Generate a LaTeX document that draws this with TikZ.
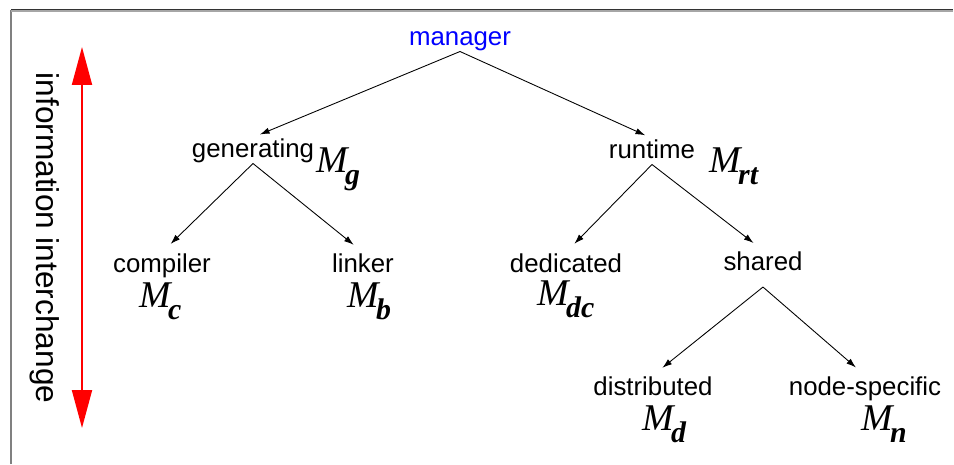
\documentclass[tikz,border=0pt]{standalone}
\usepackage{fontspec}
\setmainfont{Liberation Sans}
\newfontfamily\serifM{Liberation Serif}
\usetikzlibrary{arrows.meta}
% M labels with their big, bold subscripts
\newcommand{\Mlab}[1]{{\serifM\itshape\fontsize{21.5}{24}\selectfont M}\kern-1.5pt%
  \raisebox{-7.2pt}{\serifM\itshape\bfseries\fontsize{17}{20}\selectfont #1}}
\tikzset{
  word/.style={anchor=base, inner sep=0pt, font=\fontsize{14.7}{17}\selectfont,
    text height=11pt, text depth=3.5pt},
  mlabel/.style={anchor=base west, inner sep=0pt},
  link/.style={line width=0.5pt, -{Latex[length=5.5pt,width=3.6pt]}, shorten >=0.24cm},
  interarrow/.style={red, line width=1.1pt,
    {Triangle[length=0.76cm,width=0.4cm]}-{Triangle[length=0.76cm,width=0.4cm]}},
}
\begin{document}
\begin{tikzpicture}[x=0.02cm,y=-0.02cm]
\useasboundingbox (0,0) rectangle (954,464);

% Drawing the frame
\draw[black!50, line width=0.8pt] (11,464) -- (11,10);
\draw[black!80, line width=0.7pt] (11,9.5) -- (953,9.5);
\draw[black!35, line width=0.6pt] (11,11) -- (953,11);

% Drawing the tree
\node[word, text=blue] (manager) at (460,45) {manager};
\node[word] (generating) at (253,157) {generating};
\node[word] (runtime) at (652,158) {runtime};
\node[word] (compiler) at (162,272) {compiler};
\node[word] (linker) at (363,272) {linker};
\node[word] (dedicated) at (566,272) {dedicated};
\node[word, text depth=9.5pt] (shared) at (763,270) {shared};
\node[word] (distributed) at (653,395) {distributed};
\node[word] (nodespecific) at (865,395) {node-specific};

\node[mlabel] (Mg) at (316,172) {\Mlab{g}};
\node[mlabel] (Mrt) at (709,172) {\Mlab{rt}};
\node[mlabel] (Mc) at (139,307) {\Mlab{c}};
\node[mlabel] (Mb) at (347,307) {\Mlab{b}};
\node[mlabel] (Mdc) at (537,305) {\Mlab{dc}};
\node[mlabel] (Md) at (642,430) {\Mlab{d}};
\node[mlabel] (Mn) at (861,430) {\Mlab{n}};

\draw[link, shorten >=0.15cm] (manager.south) -- (generating.north);
\draw[link, shorten >=0.15cm] (manager.south) -- (runtime.north);
\draw[link] (generating.south) -- (compiler.north);
\draw[link] (generating.south) -- (linker.north);
\draw[link] (runtime.south) -- (dedicated.north);
\draw[link] (runtime.south) -- (shared.north);
\draw[link] (shared.south) -- (distributed.north);
\draw[link] (shared.south) -- (nodespecific.north);

% Drawing the information interchange arrow
\coordinate (itop) at (82,47);
\coordinate (ibot) at (82,428);
\draw[interarrow] (itop) -- (ibot);
\node[rotate=-90, inner sep=0pt, font=\fontsize{18}{20}\selectfont] (info) at (45,238) {information interchange};
\end{tikzpicture}
\end{document}
